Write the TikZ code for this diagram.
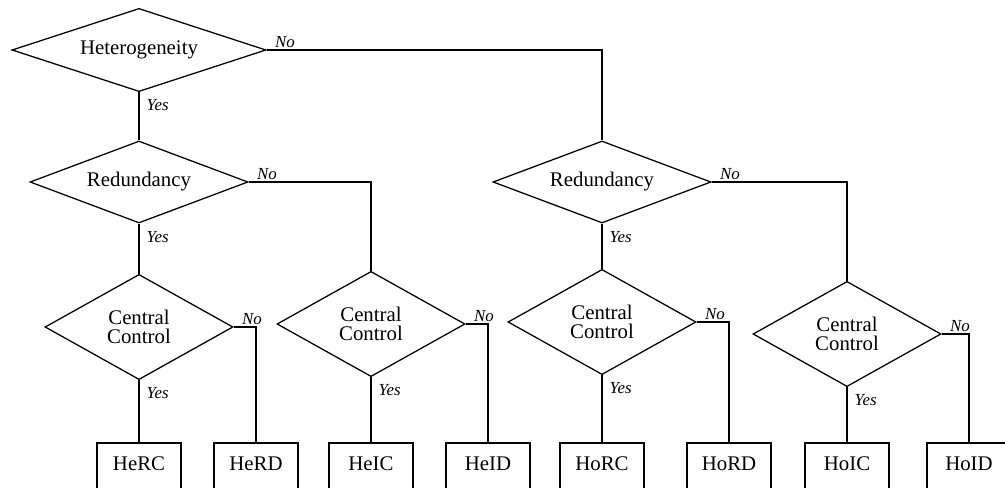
\documentclass[tikz,border=0pt]{standalone}
\usepackage{fontspec}
\setmainfont{Liberation Serif}
\usetikzlibrary{shapes.geometric}
\begin{document}
\begin{tikzpicture}[x=0.025cm,y=-0.025cm,line width=0.9pt,
  test/.style={diamond,draw,line width=0.9pt,inner sep=0pt,align=center,font=\fontsize{14.8}{13.4}\selectfont},
  toptest/.style={test,aspect=3,minimum width=6.35cm,minimum height=2.08cm},
  redtest/.style={test,aspect=2.65,minimum width=5.45cm,minimum height=2.05cm},
  cctest/.style={test,aspect=1.8,minimum width=4.7cm,minimum height=2.63cm},
  leaf/.style={rectangle,draw,line width=1.4pt,anchor=north,minimum width=2.12cm,minimum height=1.3cm,text depth=8pt,font=\fontsize{14.8}{15}\selectfont},
  yeslbl/.style={anchor=north west,inner sep=1pt,xshift=4pt,yshift=-4pt,font=\fontsize{12}{12}\selectfont\itshape},
  nolbl/.style={anchor=south west,inner sep=1.5pt,xshift=4pt,font=\fontsize{12}{12}\selectfont\itshape}]
\clip (0,0) rectangle (1005,487);
\node[toptest] (het) at (139,50) {Heterogeneity};
\node[redtest] (redhe) at (139,182) {Redundancy}; \node[redtest] (redho) at (602,182) {Redundancy};
\node[cctest] (cc1) at (139,327) {Central\\Control}; \node[cctest] (cc2) at (371,324) {Central\\Control};
\node[cctest] (cc3) at (602,322) {Central\\Control}; \node[cctest] (cc4) at (847,334) {Central\\Control};
% leaves
\node[leaf] (herc) at (139,442) {HeRC}; \node[leaf] (herd) at (256,442) {HeRD};
\node[leaf] (heic) at (371,442) {HeIC}; \node[leaf] (heid) at (488,442) {HeID};
\node[leaf] (horc) at (602,442) {HoRC}; \node[leaf] (hord) at (729,442) {HoRD};
\node[leaf] (hoic) at (847,442) {HoIC}; \node[leaf] (hoid) at (969,442) {HoID};
\draw (het.south) node[yeslbl] {Yes} -- (redhe.north); \draw (het.east) node[nolbl] {No} -| (redho.north);
\draw (redhe.south) node[yeslbl] {Yes} -- (cc1.north); \draw (redhe.east) node[nolbl] {No} -| (cc2.north);
\draw (redho.south) node[yeslbl] {Yes} -- (cc3.north); \draw (redho.east) node[nolbl] {No} -| (cc4.north);
\draw (cc1.south) node[yeslbl] {Yes} -- (herc.north); \draw (cc1.east) node[nolbl] {No} -| (herd.north);
\draw (cc2.south) node[yeslbl] {Yes} -- (heic.north); \draw (cc2.east) node[nolbl] {No} -| (heid.north);
\draw (cc3.south) node[yeslbl] {Yes} -- (horc.north); \draw (cc3.east) node[nolbl] {No} -| (hord.north);
\draw (cc4.south) node[yeslbl] {Yes} -- (hoic.north); \draw (cc4.east) node[nolbl] {No} -| (hoid.north);

\end{tikzpicture}
\end{document}
